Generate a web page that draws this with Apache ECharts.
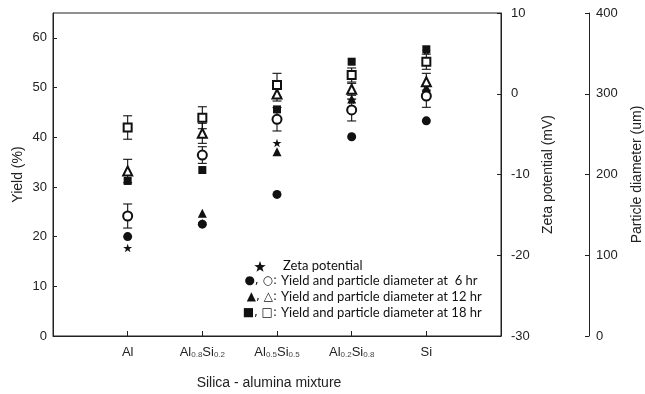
<!DOCTYPE html>
<html>
<head>
<meta charset="utf-8">
<script src="https://cdn.jsdelivr.net/npm/echarts@6/dist/echarts.min.js"></script>
<style>html,body{margin:0;padding:0;background:#fff}#c{width:645px;height:394px}</style>
</head>
<body>
<div id="c"></div>
<script>
// ---- data ----
var categories = ['Al', 'Al0.8Si0.2', 'Al0.5Si0.5', 'Al0.2Si0.8', 'Si'];
var categoryLabels = ['Al', 'Al{s|0.8}Si{s|0.2}', 'Al{s|0.5}Si{s|0.5}', 'Al{s|0.2}Si{s|0.8}', 'Si'];
var yield6 = [20.0, 22.5, 28.5, 40.1, 43.3];
var yield12 = [33.1, 24.7, 37.1, 47.7, 50.0];
var yield18 = [31.2, 33.4, 45.6, 55.2, 57.7];
var diam6 = [148.6, 224.1, 268.4, 279.9, 297.2];
var diam6Err = [14.9, 10.3, 14.5, 13.6, 14.0];
var diam12 = [204.3, 251.0, 299.7, 305.5, 314.9];
var diam12Err = [14.5, 12.4, 8.7, 7.4, 10.4];
var diam18 = [258.2, 270.3, 310.8, 323.2, 339.7];
var diam18Err = [14.5, 13.6, 14.5, 8.7, 9.4];
var zeta = [-19.1, -16.0, -6.1, -0.8, 5.3];
var yieldTicks = [0, 10, 20, 30, 40, 50, 60];
var legendLines = [
  ['\u25CF, \u25CB:', 'Yield and particle diameter at  6 hr'],
  ['\u25B2, \u25B3:', 'Yield and particle diameter at 12 hr'],
  ['\u25A0, \u25A1:', 'Yield and particle diameter at 18 hr']
];

var STAR = 'path://M50,0 L61.8,35.1 L98.9,35.1 L68.9,56.8 L80.3,91.9 L50,70.2 L19.7,91.9 L31.1,56.8 L1.1,35.1 L38.2,35.1 Z';
var AX = '#222';
var INK = '#111';
var FONT = 'Liberation Sans, Arial, sans-serif';

function pts(arr) { return arr.map(function (v, i) { return [i, v]; }); }
function errPts(arr, err) { return arr.map(function (v, i) { return [i, v, err[i]]; }); }

function renderErr(params, api) {
  var x = api.value(0), y = api.value(1), e = api.value(2);
  var t = api.coord([x, y + e]), b = api.coord([x, y - e]);
  var hw = 4.5;
  var st = { stroke: INK, lineWidth: 1.1 };
  return {
    type: 'group',
    children: [
      { type: 'line', shape: { x1: t[0], y1: t[1], x2: b[0], y2: b[1] }, style: st },
      { type: 'line', shape: { x1: t[0] - hw, y1: t[1], x2: t[0] + hw, y2: t[1] }, style: st },
      { type: 'line', shape: { x1: b[0] - hw, y1: b[1], x2: b[0] + hw, y2: b[1] }, style: st }
    ]
  };
}

function errSeries(d, e) {
  return { type: 'custom', xAxisIndex: 0, yAxisIndex: 2, renderItem: renderErr,
    data: errPts(d, e), encode: { x: 0, y: 1 }, z: 1, silent: true };
}
function sc(data, axis, symbol, size, bw, extra) {
  var s = { type: 'scatter', xAxisIndex: 0, yAxisIndex: axis, data: pts(data), symbol: symbol,
    symbolSize: size, itemStyle: { color: INK, borderWidth: bw, opacity: 1 },
    z: 3, silent: true };
  if (extra) for (var k in extra) s[k] = extra[k];
  return s;
}

// star glyph for the legend
function starPoints(cx, cy, r) {
  var p = [];
  for (var k = 0; k < 10; k++) {
    var rr = k % 2 === 0 ? r : r * 0.4;
    var a = -Math.PI / 2 + k * Math.PI / 5;
    p.push([cx + rr * Math.cos(a), cy + rr * Math.sin(a)]);
  }
  return p;
}

var LFONT = '13px Lato, "DejaVu Sans", sans-serif';
var graphics = [
  { type: 'polygon', shape: { points: starPoints(260, 267, 6) }, style: { fill: INK } },
  { type: 'text', left: 283, top: 259, style: { text: 'Zeta potential', font: LFONT, fill: INK } }
];
legendLines.forEach(function (l, i) {
  var y = 274.5 + i * 15.7;
  graphics.push({ type: 'text', x: 277, y: y + 0.5, style: { text: l[0], align: 'right', verticalAlign: 'top', font: '12px "DejaVu Sans", sans-serif', fill: INK } });
  graphics.push({ type: 'text', left: 281, top: y, style: { text: l[1], font: LFONT, fill: INK } });
});

var chart = echarts.init(document.getElementById('c'), null, { renderer: 'canvas' });
chart.setOption({
  animation: false,
  backgroundColor: '#fff',
  grid: { left: 53, right: 144, top: 13, bottom: 58, containLabel: false, outerBoundsMode: 'none',
    show: true, borderColor: AX, borderWidth: 1, backgroundColor: 'transparent' },
  xAxis: [{
    type: 'value', min: -1, max: 5, interval: 1,
    name: 'Silica - alumina mixture', nameLocation: 'middle', nameGap: 40,
    nameTextStyle: { fontFamily: FONT, fontSize: 14, color: '#222', padding: [0, 16, 0, 0] },
    axisLine: { show: true, onZero: false, lineStyle: { color: AX, width: 1 } },
    axisTick: { show: true, inside: true, length: 5, customValues: [0, 1, 2, 3, 4], lineStyle: { color: AX } },
    axisLabel: { show: true, margin: 10, customValues: [0, 1, 2, 3, 4], fontFamily: FONT, fontSize: 13, color: '#222',
      formatter: function (v) { return categoryLabels[Math.round(v)] || ''; },
      rich: { s: { fontFamily: FONT, fontSize: 8, color: '#444', padding: [4, 0, 0, 0] } } },
    splitLine: { show: false }
  }],
  yAxis: [{
    type: 'value', min: 0, max: 65, interval: 10, position: 'left',
    name: 'Yield (%)', nameLocation: 'middle', nameGap: 28, nameRotate: 90, nameMoveOverlap: false,
    nameTextStyle: { fontFamily: FONT, fontSize: 14, color: '#222' },
    axisLine: { show: true, onZero: false, lineStyle: { color: AX, width: 1 } },
    axisTick: { show: true, inside: true, length: 4, customValues: yieldTicks, lineStyle: { color: AX } },
    axisLabel: { customValues: yieldTicks, margin: 6, fontFamily: FONT, fontSize: 13, color: '#222' },
    splitLine: { show: false }
  }, {
    type: 'value', min: -30, max: 10, interval: 10, position: 'right',
    name: 'Zeta potential (mV)', nameLocation: 'middle', nameGap: 39, nameRotate: 90,
    nameTextStyle: { fontFamily: FONT, fontSize: 14, color: '#222' },
    axisLine: { show: true, onZero: false, lineStyle: { color: AX, width: 1 } },
    axisTick: { show: true, inside: true, length: 4, lineStyle: { color: AX } },
    axisLabel: { margin: 10, fontFamily: FONT, fontSize: 13, color: '#222' },
    splitLine: { show: false }
  }, {
    type: 'value', min: 0, max: 400, interval: 100, position: 'right', offset: 88,
    name: 'Particle diameter (um)', nameLocation: 'middle', nameGap: 41, nameRotate: 90,
    nameTextStyle: { fontFamily: FONT, fontSize: 14, color: '#222' },
    axisLine: { show: true, onZero: false, lineStyle: { color: AX, width: 1 } },
    axisTick: { show: true, inside: true, length: 4, lineStyle: { color: AX } },
    axisLabel: { margin: 7, fontFamily: FONT, fontSize: 13, color: '#222' },
    splitLine: { show: false }
  }],
  series: [
    errSeries(diam6, diam6Err),
    errSeries(diam12, diam12Err),
    errSeries(diam18, diam18Err),
    sc(yield12, 0, 'triangle', 9, 1),
    sc(diam12, 2, 'emptyTriangle', 9, 1),
    sc(diam6, 2, 'emptyCircle', 9, 1),
    sc(diam18, 2, 'emptyRect', 8, 1),
    sc(zeta, 1, STAR, 9, 1, { symbolKeepAspect: true }),
    sc(yield6, 0, 'circle', 9, 1),
    sc(yield18, 0, 'rect', 8, 1)
  ],
  graphic: graphics
});
</script>
</body>
</html>
